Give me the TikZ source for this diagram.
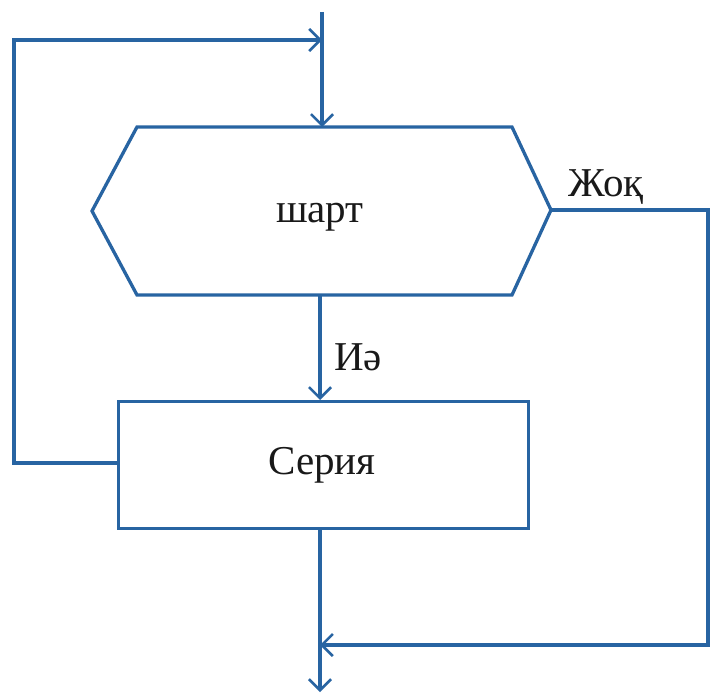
\documentclass[tikz,border=0pt]{standalone}
\usepackage{fontspec}
\setmainfont{Liberation Serif}
\usetikzlibrary{arrows.meta}
\definecolor{lineblue}{RGB}{40,100,162}
\definecolor{txt}{RGB}{25,25,25}
\tikzset{
  flow/.style={draw=lineblue, line width=3.3pt},
  arr/.style={flow, -{Straight Barb[length=11pt,width=22pt,line width=2.6pt]}},
  lbl/.style={text=txt, font=\fontsize{41}{43}\selectfont, inner sep=0pt},
}
\begin{document}
\begin{tikzpicture}[x=1pt,y=-1pt]
\useasboundingbox (0,0) rectangle (710,698);
\fill[white] (0,0) rectangle (710,698);
% hexagon (condition)
\coordinate (htl) at (137,127);
\coordinate (htr) at (512,127);
\coordinate (hr)  at (551,210);
\coordinate (hbr) at (512,295);
\coordinate (hbl) at (137,295);
\coordinate (hl)  at (92,211);
\draw[flow, line join=miter] (htl) -- (htr) -- (hr) -- (hbr) -- (hbl) -- (hl) -- cycle;
\node[lbl] (cond) at (320,217) {шарт};
% series box
\node[flow, minimum width=410pt, minimum height=127pt, inner sep=0pt, anchor=north west] (ser) at (117,400) {};
\node[lbl] (sertxt) at (322,465) {Серия};
% coordinates
\coordinate (start) at (322,12);
\coordinate (top) at (322,127);
\coordinate (loopL) at (14,463);
\coordinate (loopLT) at (14,40);
\coordinate (join) at (322,40);
\coordinate (hb) at (320,295);
\coordinate (rt) at (320,400);
\coordinate (rb) at (320,527);
\coordinate (endp) at (320,692);
\coordinate (rr1) at (708,210);
\coordinate (rr2) at (708,645);
\coordinate (mrg) at (320,645);
% connectors
\draw[arr] (start) -- (top);
\draw[arr] (ser.west |- loopL) -- (loopL) -- (loopLT) -- (join);
\draw[arr] (hb) -- (rt);
\draw[arr] (rb) -- (endp);
\draw[arr] (hr) -- (rr1) -- (rr2) -- (mrg);
% labels
\node[lbl] (no) at (606,187) {Жоқ};
\node[lbl] (yes) at (358,357) {Иә};
\end{tikzpicture}
\end{document}
